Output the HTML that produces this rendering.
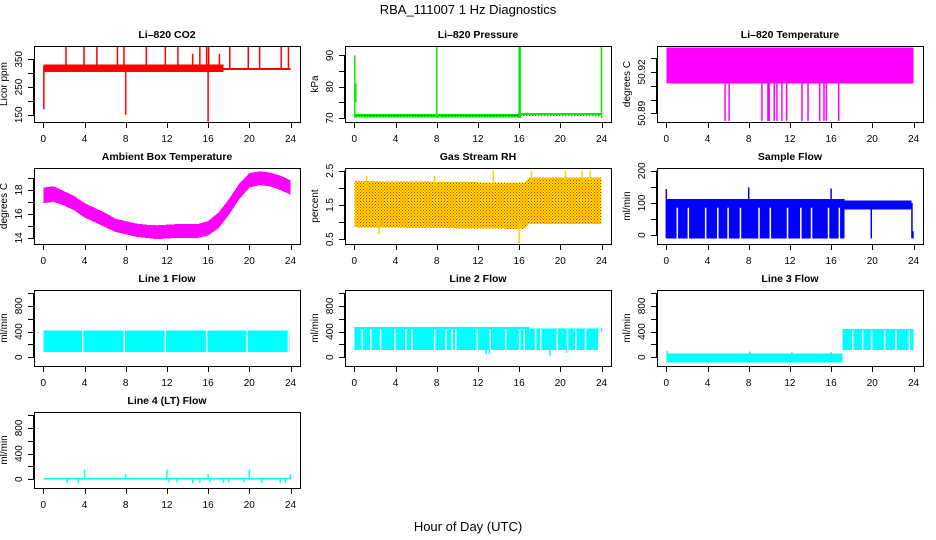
<!DOCTYPE html>
<html><head><meta charset="utf-8">
<style>
html,body{margin:0;padding:0;background:#fff;}
svg{display:block;font-family:"Liberation Sans",Arial,sans-serif;}
</style></head>
<body>
<svg id="chart" width="936" height="540" viewBox="0 0 936 540" xmlns="http://www.w3.org/2000/svg">
<defs>
<pattern id="rhpat" width="3" height="3" patternUnits="userSpaceOnUse">
<rect width="3" height="3" fill="#ffe000"/>
<rect x="0" y="0" width="1" height="1" fill="#ff2000"/>
<rect x="1.5" y="1.5" width="1" height="1" fill="#ff3000"/>
</pattern>
</defs>
<text x="468" y="14" font-size="13" text-anchor="middle">RBA_111007  1 Hz Diagnostics</text>
<text x="468" y="531" font-size="13" text-anchor="middle">Hour of Day (UTC)</text>
</svg>
<script>
// ---- data arrays (hours / values) ----
const xTicks=[0,4,8,12,16,20,24];

const co2BandH=[0,17.5,17.5,24];
const co2BandLo=[305,305,312,312];
const co2BandHi=[332,332,318,318];
const co2SpikeH=[2.2,3.95,5.2,7.2,7.83,10.0,11.85,13.07,15.2,15.86,16.05,18.1,19.9,21.0,23.1,23.8,0.05,8.0,16.0,14.5,17.1];
const co2SpikeLo=[315,315,315,315,315,315,315,315,315,315,315,315,315,315,315,315,170,150,125,320,320];
const co2SpikeHi=[400,400,398,398,398,400,398,398,398,400,400,398,398,398,398,400,325,320,320,370,370];

const presBandH=[0.1,16,16,24];
const presBandLo=[70.2,70.2,70.9,70.9];
const presBandHi=[71.2,71.2,71.5,71.5];
const presSpikeH=[0.05,0.15,8.0,16.0,16.1,24.0];
const presSpikeLo=[70,75,70,70,70,70];
const presSpikeHi=[90,81,93,93,93,93];

const tempBandH=[0,24];
const tempBandLo=[50.9115,50.9115];
const tempBandHi=[50.9376,50.9376];
const tempSpikeH=[5.71,6.1,9.28,9.86,9.99,10.48,10.74,11.22,11.68,13.17,13.76,14.89,15.31,15.54,16.74];

const ambH=[0,1,2,3,4,5,6,7,8,9,10,11,12,13,14,15,16,17,18,19,20,21,22,23,24];
const ambHi=[18.2,18.3,17.9,17.5,16.9,16.5,16.1,15.6,15.4,15.2,15.1,15.05,15.1,15.15,15.15,15.15,15.4,16.1,17.2,18.5,19.4,19.55,19.45,19.2,18.8];
const ambLo=[16.9,17.0,16.7,16.3,15.7,15.3,14.9,14.5,14.3,14.1,14.0,13.9,13.95,14.0,14.0,14.0,14.2,14.8,15.9,17.2,18.2,18.4,18.3,18.0,17.6];

const rhBandH=[0,16.5,17,24];
const rhBandLo=[0.85,0.8,0.95,0.95];
const rhBandHi=[2.2,2.15,2.3,2.3];
const rhSpikeH=[1.2,2.4,7.8,13.5,16.0,17.2,20.5,22.1,22.9];
const rhSpikeLo=[2.0,0.65,2.0,2.0,0.3,2.2,2.2,2.2,2.2];
const rhSpikeHi=[2.35,1.0,2.35,2.5,1.0,2.5,2.5,2.5,2.5];

const sfBandH=[0,17.3,17.3,23.8];
const sfBandLo=[-10,-10,80,80];
const sfBandHi=[112,112,107,107];
const sfGapH=[1.07,2.14,3.82,5.0,6.0,7.2,9.0,10.1,11.77,13.06,14.1,15.75,16.8];
const sfSpikeH=[0.0,8.0,16.0,19.9,23.85,23.95];
const sfSpikeLo=[-10,-10,-10,-10,-10,-10];
const sfSpikeHi=[143,148,145,105,100,12];

const l1BandH=[0,23.9];
const l1BandLo=[80,80];
const l1BandHi=[420,420];
const l1GapH=[3.82,7.86,11.85,15.86,19.8,23.8];

const l2BandH=[0,17,17,23.8];
const l2BandLo=[110,110,110,110];
const l2BandHi=[470,470,450,450];
const l2GapH=[0.78,1.6,2.55,3.95,5.0,5.6,7.8,8.9,9.5,9.85,11.95,13.2,14.7,16.05,16.5,17.6,18.1,19.7,20.7,21.5,22.45,23.75];
const l2SpikeH=[12.8,13.1,19.0,20.6,24.0];
const l2SpikeLo=[50,50,20,70,400];
const l2SpikeHi=[120,120,120,120,460];

const l3BandH=[0,17.1,17.1,24];
const l3BandLo=[-80,-80,110,110];
const l3BandHi=[60,60,440,440];
const l3GapH=[18.1,19.06,19.93,21.2,22.3,23.6];
const l3SpikeH=[0.1,8.1,12.2,16.0];
const l3SpikeLo=[0,0,0,0];
const l3SpikeHi=[100,90,80,80];

const l4BandH=[0,24];
const l4BandLo=[-5,-5];
const l4BandHi=[20,20];
const l4SpikeH=[4.0,12.0,20.0,8.0,16.0,24.0,2.3,3.4,12.2,13.0,14.5,15.2,16.2,17.5,18.0,19.5,21.2,23.0,23.5];
const l4SpikeLo=[0,0,0,0,0,0,-60,-60,-50,-50,-60,-60,-50,-60,-50,-50,-60,-60,-60];
const l4SpikeHi=[150,150,150,80,80,80,0,0,0,0,0,0,0,0,0,0,0,0,0];

// ---- layout ----
const NS='http://www.w3.org/2000/svg';
const svg=document.getElementById('chart');
const colL=[34,345,657], rowT=[46,168,290,412], PW=266, PH=76;
function el(tag,attrs,parent){const e=document.createElementNS(NS,tag);for(const k in attrs)e.setAttribute(k,attrs[k]);(parent||svg).appendChild(e);return e;}

function panel(p){
  const L=colL[p.col], T=rowT[p.row];
  const g=el('g',{});
  
  
  const xs=h=>L+9.3+h*10.3;
  const ys=v=>T+PH*(p.ymax-v)/(p.ymax-p.ymin);
  const clip='clip-'+p.name;
  const cp=el('clipPath',{id:clip},g);
  el('rect',{x:L,y:T,width:PW,height:PH},cp);
  const m=el('g',{'clip-path':'url(#'+clip+')'},g);
  
  
  if(p.bH){
    let pts=[];
    for(let i=0;i<p.bH.length;i++)pts.push(xs(p.bH[i])+','+ys(p.bHi[i]));
    for(let i=p.bH.length-1;i>=0;i--)pts.push(xs(p.bH[i])+','+ys(p.bLo[i]));
    const b=el('polygon',{points:pts.join(' '),fill:p.fill,'shape-rendering':'crispEdges'},m);
    
    
  }
  if(p.mid){
    const ln=el('line',{x1:xs(p.bH[0]),x2:xs(24),y1:ys(p.mid),y2:ys(p.mid),stroke:'#000','stroke-width':1,'stroke-dasharray':'1,2'},m);
    
    
  }
  if(p.gH){
    for(const h of p.gH){
      const gl=el('line',{x1:xs(h),x2:xs(h),y1:ys(p.gTop),y2:ys(p.gBot)+1,stroke:'#fff','stroke-width':1.5},m);
      
      
    }
  }
  if(p.sH){
    for(let i=0;i<p.sH.length;i++){
      const s=el('line',{x1:xs(p.sH[i]),x2:xs(p.sH[i]),y1:ys(p.sLo[i]),y2:ys(p.sHi[i]),stroke:p.stroke||p.fill,'stroke-width':1.5},m);
      
      
    }
  }
  const bx=el('rect',{x:L+0.5,y:T+0.5,width:PW,height:PH,fill:'none',stroke:'#000','stroke-width':1},g);
  
  
  const tt=el('text',{x:L+PW/2,y:T-8,'font-size':10.5,'font-weight':'bold','text-anchor':'middle'},g);
  tt.textContent=p.title;
  
  
  const xa=el('g',{},g);
  
  
  el('line',{x1:xs(0),x2:xs(24),y1:T+PH+0.5,y2:T+PH+0.5,stroke:'#000'},xa);
  for(const t of xTicks){
    el('line',{x1:Math.round(xs(t))+0.5,x2:Math.round(xs(t))+0.5,y1:T+PH,y2:T+PH+6,stroke:'#000'},xa);
    const lt=el('text',{x:xs(t),y:T+PH+20,'font-size':10,'text-anchor':'middle'},xa);
    lt.textContent=t;
    
    
  }
  const ya=el('g',{},g);
  
  
  el('line',{x1:L-0.5,x2:L-0.5,y1:ys(p.yt[0]),y2:ys(p.yt[p.yt.length-1]),stroke:'#000'},ya);
  for(const t of p.yt){
    const y=Math.round(ys(t))+0.5;
    el('line',{x1:L-6,x2:L,y1:y,y2:y,stroke:'#000'},ya);
  }
  for(const t of p.yl){
    const y=ys(t), x=L-12;
    const lt=el('text',{x:x,y:y,'font-size':10,'text-anchor':'middle',transform:'rotate(-90 '+x+' '+y+')'},ya);
    lt.textContent=t;
    
    
  }
  const yx=L-27, yy=T+PH/2;
  const yt=el('text',{x:yx,y:yy,'font-size':10,'text-anchor':'middle',transform:'rotate(-90 '+yx+' '+yy+')'},ya);
  yt.textContent=p.ylab;
  
  
}

const flowTicks=[0,200,400,600,800,1000], flowLabs=[0,400,800];
panel({name:'co2',col:0,row:0,title:'Li\u2013820 CO2',ylab:'Licor ppm',ymin:124,ymax:398,yt:[150,200,250,300,350],yl:[150,250,350],fill:'#ff0000',bH:co2BandH,bLo:co2BandLo,bHi:co2BandHi,sH:co2SpikeH,sLo:co2SpikeLo,sHi:co2SpikeHi});
panel({name:'pressure',col:1,row:0,title:'Li\u2013820 Pressure',ylab:'kPa',ymin:68.7,ymax:93,yt:[70,75,80,85,90],yl:[70,80,90],fill:'#00ee00',mid:70.8,bH:presBandH,bLo:presBandLo,bHi:presBandHi,sH:presSpikeH,sLo:presSpikeLo,sHi:presSpikeHi});
panel({name:'licor-temperature',col:2,row:0,title:'Li\u2013820 Temperature',ylab:'degrees C',ymin:50.8837,ymax:50.9388,yt:[50.89,50.90,50.91,50.92,50.93],yl:['50.89','50.92'],fill:'#ff00ff',bH:tempBandH,bLo:tempBandLo,bHi:tempBandHi,sH:tempSpikeH,sLo:tempSpikeH.map(()=>50.8845),sHi:tempSpikeH.map(()=>50.912)});
panel({name:'ambient-temperature',col:0,row:1,title:'Ambient Box Temperature',ylab:'degrees C',ymin:13.49,ymax:19.83,yt:[14,15,16,17,18,19],yl:[14,16,18],fill:'#ff00ff',bH:ambH,bLo:ambLo,bHi:ambHi});
panel({name:'gas-rh',col:1,row:1,title:'Gas Stream RH',ylab:'percent',ymin:0.36,ymax:2.58,yt:[0.5,1,1.5,2,2.5],yl:['0.5','1.5','2.5'],fill:'url(#rhpat)',stroke:'#ffd000',bH:rhBandH,bLo:rhBandLo,bHi:rhBandHi,sH:rhSpikeH,sLo:rhSpikeLo,sHi:rhSpikeHi});
panel({name:'sample-flow',col:2,row:1,title:'Sample Flow',ylab:'ml/min',ymin:-27.7,ymax:208.6,yt:[0,50,100,150,200],yl:[0,100,200],fill:'#0000ff',bH:sfBandH,bLo:sfBandLo,bHi:sfBandHi,gH:sfGapH,gTop:85,gBot:-10,sH:sfSpikeH,sLo:sfSpikeLo,sHi:sfSpikeHi});
panel({name:'line1-flow',col:0,row:2,title:'Line 1 Flow',ylab:'ml/min',ymin:-137,ymax:1048,yt:flowTicks,yl:flowLabs,fill:'#00ffff',bH:l1BandH,bLo:l1BandLo,bHi:l1BandHi,gH:l1GapH,gTop:420,gBot:80});
panel({name:'line2-flow',col:1,row:2,title:'Line 2 Flow',ylab:'ml/min',ymin:-137,ymax:1048,yt:flowTicks,yl:flowLabs,fill:'#00ffff',bH:l2BandH,bLo:l2BandLo,bHi:l2BandHi,gH:l2GapH,gTop:440,gBot:110,sH:l2SpikeH,sLo:l2SpikeLo,sHi:l2SpikeHi});
panel({name:'line3-flow',col:2,row:2,title:'Line 3 Flow',ylab:'ml/min',ymin:-137,ymax:1048,yt:flowTicks,yl:flowLabs,fill:'#00ffff',bH:l3BandH,bLo:l3BandLo,bHi:l3BandHi,gH:l3GapH,gTop:420,gBot:110,sH:l3SpikeH,sLo:l3SpikeLo,sHi:l3SpikeHi});
panel({name:'line4-flow',col:0,row:3,title:'Line 4 (LT) Flow',ylab:'ml/min',ymin:-137,ymax:1048,yt:flowTicks,yl:flowLabs,fill:'#00ffff',bH:l4BandH,bLo:l4BandLo,bHi:l4BandHi,sH:l4SpikeH,sLo:l4SpikeLo,sHi:l4SpikeHi});
</script>
</body></html>
